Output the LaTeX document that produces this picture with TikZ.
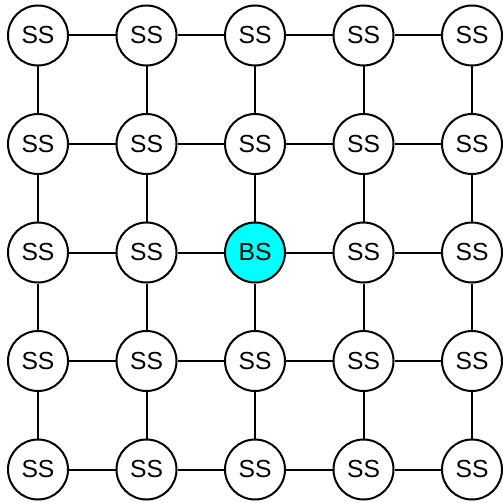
\documentclass[tikz,border=0pt]{standalone}
\usepackage{fontspec}
\setmainfont{Liberation Sans}
\definecolor{aqua}{RGB}{0,255,255}
\begin{document}
\begin{tikzpicture}[x=0.75pt,y=-0.75pt,
  station/.style={circle,draw=black,line width=1.5pt,fill=white,minimum size=45pt,inner sep=0pt,font=\fontsize{18.5}{18.5}\selectfont},
  base/.style={station,fill=aqua},
  link/.style={draw=black,line width=1.5pt}]
\useasboundingbox (0,0) rectangle (503,503);
\foreach \i in {0,...,4}{
  \foreach \j in {0,...,4}{
    \pgfmathsetmacro{\xx}{38+108.5*\i}
    \pgfmathsetmacro{\yy}{35.5+108.5*\j}
    \ifnum\i=2 \ifnum\j=2
      \node[base] (n\i\j) at (\xx,\yy) {BS};
    \else
      \node[station] (n\i\j) at (\xx,\yy) {SS};
    \fi\else
      \node[station] (n\i\j) at (\xx,\yy) {SS};
    \fi
  }
}
\foreach \i in {0,...,4}{
  \foreach \j/\k in {0/1,1/2,2/3,3/4}{
    \draw[link] (n\i\j) -- (n\i\k);
    \draw[link] (n\j\i) -- (n\k\i);
  }
}
\end{tikzpicture}
\end{document}
